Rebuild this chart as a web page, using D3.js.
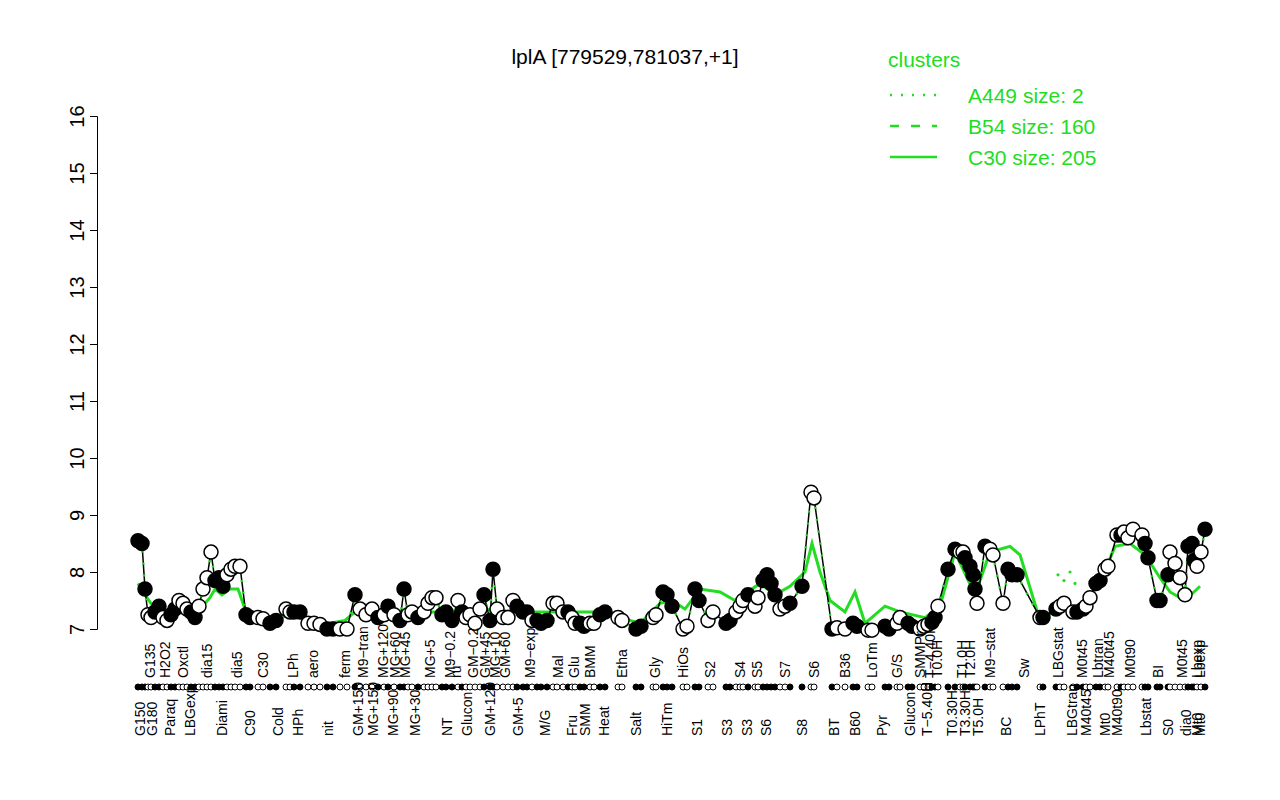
<!DOCTYPE html><html><head><meta charset="utf-8">
<script src="https://cdn.jsdelivr.net/npm/d3@7"></script>
<style>body{margin:0;background:#fff}text{font-family:"Liberation Sans",Arial,sans-serif}</style></head><body>
<svg id="c" width="1280" height="800"></svg>
<script>
// position (x category position), expression value, filled flag
const pos=[138,142,145,148,151,155,159,163,167,171,175,179,183,187,191,195,199,203,207,211,215,219,223,227,231,235,240,246,250,258,263,270,276,286,290,294,300,308,314,320,327,333,340,347,355,360,366,372,378,384,388,394,400,404,408,412,418,424,428,432,436,442,446,452,458,462,466,470,475,480,484,490,493,497,503,508,513,517,523,527,532,537,541,547,553,557,563,568,572,575,580,584,590,594,600,605,618,622,636,641,653,656,663,667,672,683,687,695,699,708,713,726,730,736,740,743,748,755,758,763,767,771,775,780,785,790,802,811,814,832,837,845,853,857,868,872,885,889,897,900,908,912,920,924,928,932,935,938,948,955,960,963,965,970,973,975,977,985,990,993,1003,1008,1012,1017,1040,1043,1056,1060,1064,1073,1077,1083,1086,1090,1096,1100,1105,1108,1117,1121,1124,1128,1133,1142,1145,1148,1157,1160,1168,1170,1175,1180,1185,1188,1192,1194,1197,1201,1205];
const vals=[8.55,8.5,7.7,7.25,7.2,7.3,7.4,7.2,7.15,7.25,7.35,7.5,7.45,7.35,7.3,7.2,7.4,7.7,7.9,8.35,7.85,7.9,7.75,7.95,8.05,8.1,8.1,7.25,7.2,7.2,7.18,7.1,7.15,7.35,7.3,7.3,7.3,7.1,7.1,7.08,7.0,7.0,7.0,7.0,7.6,7.35,7.25,7.35,7.2,7.25,7.4,7.25,7.15,7.7,7.25,7.3,7.2,7.3,7.45,7.55,7.55,7.25,7.3,7.15,7.5,7.3,7.2,7.25,7.1,7.35,7.6,7.15,8.05,7.35,7.2,7.2,7.5,7.4,7.3,7.3,7.15,7.15,7.1,7.15,7.45,7.45,7.3,7.3,7.2,7.1,7.1,7.05,7.1,7.1,7.25,7.3,7.2,7.15,7.0,7.05,7.2,7.25,7.65,7.6,7.4,7.0,7.05,7.7,7.5,7.15,7.3,7.1,7.15,7.3,7.4,7.5,7.6,7.4,7.55,7.85,7.95,7.8,7.6,7.35,7.4,7.45,7.75,9.4,9.3,7.0,7.02,7.0,7.1,7.05,6.98,6.98,7.05,7.0,7.1,7.2,7.1,7.05,7.0,7.05,7.08,7.12,7.2,7.4,8.05,8.4,8.35,8.35,8.25,8.1,7.95,7.7,7.45,8.45,8.4,8.3,7.45,8.05,7.95,7.95,7.2,7.2,7.35,7.4,7.45,7.3,7.3,7.35,7.4,7.55,7.8,7.85,8.05,8.1,8.65,8.65,8.7,8.6,8.75,8.65,8.5,8.25,7.5,7.5,7.95,8.35,8.15,7.9,7.6,8.45,8.5,8.2,8.1,8.35,8.75];
const filled="FFFOOFFOOFFOOOFFOOOOFFFOOOOFFOOFFOOFFOOOFFOOFOOOFOFOFFOOFOOOOFFFOFOOOOFFFOOOOFFFOFFFOOOFOOFFOOFFOOFFOOFFFOOFFOOFFOOOFOOFFFFOOFFOOFOOFFOOFFOOFFOOOFFOFFOOFFFFOFOOOFFFOFFOOOFFOOFFOOOFOOOOFFFFFOOOOFFFOOFFFFOFFOOOF".split("");
// C30 cluster mean line
const gPos=[138,145,155,170,185,200,210,215,222,230,238,248,270,290,310,330,345,355,370,400,440,480,520,560,600,640,660,672,685,700,720,735,760,775,790,805,812,820,830,845,855,865,885,900,925,940,955,975,990,1010,1020,1040,1060,1080,1100,1115,1130,1145,1160,1170,1185,1200];
const gVals=[7.8,7.6,7.35,7.3,7.35,7.35,7.55,7.7,7.6,7.7,7.7,7.2,7.15,7.25,7.15,7.1,7.15,7.3,7.35,7.3,7.3,7.35,7.3,7.3,7.3,7.1,7.45,7.5,7.35,7.7,7.65,7.5,7.8,7.6,7.75,8.0,8.5,8.0,7.5,7.3,7.65,7.1,7.4,7.3,7.2,7.4,8.35,7.6,8.35,8.45,8.3,7.15,7.4,7.35,7.8,8.45,8.5,8.3,7.9,7.65,7.5,7.75];
// A449 dotted points
const aPos=[1058,1064,1070,1075];const aVals=[7.95,7.85,8.0,7.8];
const upperLab=["G135","H2O2","Oxctl","dia15","dia5","C30","LPh","aero","ferm","M9−tran","MG+120","MG+60","MG+45","MG+5","M9−0.2","ru","GM−0.2","GM+45","MG+10","GM+60","M9−exp","Mal","Glu","BMM","Etha","Gly","HiOs","S2","S4","S5","S7","S6","B36","LoTm","G/S","SMMPr","T−4.40H","T0.0H","T1.0H","T2.0H","M9−stat","Sw","LBGstat","M0t45","Lbtran","M40t45","M0t90","BI","M0t45","Lbexp","Lbexp"];
const upperPos=[150,165,183,207,237,263,293,313,345,363,383,395,405,430,450,456,473,485,495,505,530,558,574,590,622,655,683,710,740,757,785,814,845,872,897,920,930,937,962,970,990,1024,1058,1082,1098,1109,1130,1158,1182,1197,1200];
const lowerLab=["G150","G180","Paraq","LBGexp","Diami","C90","Cold","HPh","nit","GM+150","MG+150","MG+90","MG+30","NT","Glucon","GM+120","GM+5","M/G","Fru","SMM","Heat","Salt","HiTm","S1","S3","S3","S6","S8","BT","B60","Pyr","Glucon","T−5.40H","T0.30H","T3.30H","T5.0H","BC","LPhT","LBGtran","M40t45","Mt0","M40t90","Lbstat","S0","dia0","Mt0","Mt0"];
const lowerPos=[140,152,170,190,222,250,278,298,328,358,373,393,415,447,467,490,518,545,572,585,604,636,667,697,727,747,766,802,834,855,882,910,927,952,965,978,1006,1040,1072,1086,1105,1117,1146,1168,1186,1197,1200];
const yTicks=[7,8,9,10,11,12,13,14,15,16];
const legendItems=[{t:"A449 size: 2",d:"2,9"},{t:"B54 size: 160",d:"9,12"},{t:"C30 size: 205",d:null}];

const svg=d3.select("#c");
const x=d3.scaleLinear().domain([138,1205]).range([138,1205]);
const y=d3.scaleLinear().domain([7,16]).range([629,116]);
svg.append("g").attr("transform","translate(97,0)").call(d3.axisLeft(y).tickValues(yTicks).tickSize(7).tickFormat(d3.format("d")))
 .call(g=>{g.select(".domain").attr("stroke","#000");g.selectAll(".tick line").attr("stroke","#000");
  g.selectAll("text").attr("font-size",20).attr("x",0).attr("y",-20).attr("dy","0.35em").attr("transform","rotate(-90)").attr("text-anchor","middle").attr("fill","#000");});
const pts=pos.map((p,i)=>({x:p,v:vals[i],f:filled[i]==="F"}));
svg.append("path").datum(gPos.map((p,i)=>[p,gVals[i]])).attr("fill","none").attr("stroke","#22dd22").attr("stroke-width",3)
 .attr("d",d3.line().x(d=>x(d[0])).y(d=>y(d[1])));
svg.append("path").datum(pts).attr("fill","none").attr("stroke","#000").attr("stroke-width",1.5)
 .attr("d",d3.line().x(d=>x(d.x)).y(d=>y(d.v)));
svg.append("path").datum(pts).attr("fill","none").attr("stroke","#22dd22").attr("stroke-width",2.5).attr("stroke-dasharray","2,10")
 .attr("d",d3.line().x(d=>x(d.x)).y(d=>y(d.v)));
svg.selectAll(".a").data(aPos).join("circle").attr("cx",d=>x(d)).attr("cy",(d,i)=>y(aVals[i])).attr("r",1.6).attr("fill","#22dd22");
svg.selectAll(".p").data(pts).join("circle").attr("cx",d=>x(d.x)).attr("cy",d=>y(d.v)).attr("r",7)
 .attr("fill",d=>d.f?"#000":"#fff").attr("stroke","#000").attr("stroke-width",1.5);
svg.selectAll(".r").data(pts).join("circle").attr("cx",d=>x(d.x)).attr("cy",687).attr("r",3)
 .attr("fill",d=>d.f?"#000":"#fff").attr("stroke","#000").attr("stroke-width",1);
svg.selectAll(".ul").data(upperLab).join("text").attr("transform",(d,i)=>`translate(${x(upperPos[i])+5},678) rotate(-90)`).attr("font-size",14).text(d=>d);
svg.selectAll(".ll").data(lowerLab).join("text").attr("transform",(d,i)=>`translate(${x(lowerPos[i])+5},736) rotate(-90)`).attr("font-size",14).text(d=>d);
svg.append("text").attr("x",625).attr("y",64).attr("text-anchor","middle").attr("font-size",21).text("lplA [779529,781037,+1]");
svg.append("text").attr("x",888).attr("y",67).attr("font-size",21).attr("fill","#22dd22").text("clusters");
legendItems.forEach((l,i)=>{const yy=95+i*31;
 svg.append("line").attr("x1",890).attr("x2",937).attr("y1",yy).attr("y2",yy).attr("stroke","#22dd22").attr("stroke-width",2.5).attr("stroke-dasharray",l.d);
 svg.append("text").attr("x",968).attr("y",yy+8).attr("font-size",21).attr("fill","#22dd22").text(l.t);});
</script></body></html>
